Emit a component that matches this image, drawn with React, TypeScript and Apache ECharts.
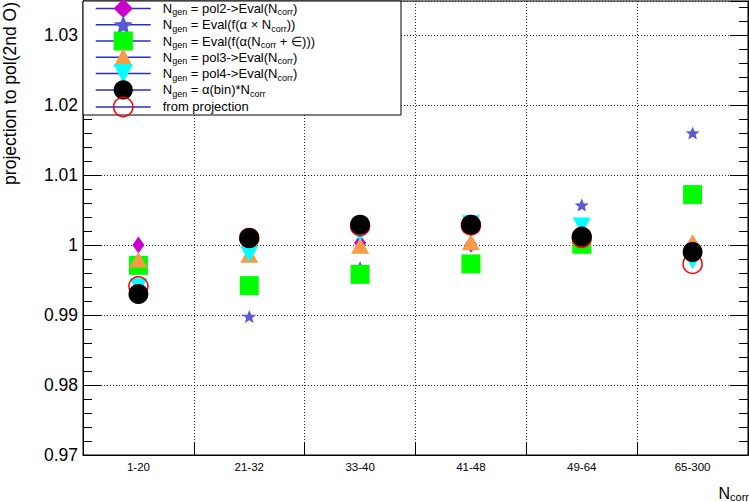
import React, { useEffect, useRef } from "react";
import * as echarts from "echarts";

const categories = ["1-20", "21-32", "33-40", "41-48", "49-64", "65-300"];

const seriesNames = [
  "Ngen = pol2->Eval(Ncorr)",
  "Ngen = Eval(f(α × Ncorr))",
  "Ngen = Eval(f(α(Ncorr + ∈)))",
  "Ngen = pol3->Eval(Ncorr)",
  "Ngen = pol4->Eval(Ncorr)",
  "Ngen = α(bin)*Ncorr",
  "from projection",
];

const richNames = [
  "{f|N}{s|gen}{m| = pol2->Eval(N}{s|corr}{m|)}",
  "{f|N}{s|gen}{m| = Eval(f(α × N}{s|corr}{m|))}",
  "{f|N}{s|gen}{m| = Eval(f(α(N}{s|corr}{m| + ∈)))}",
  "{f|N}{s|gen}{m| = pol3->Eval(N}{s|corr}{m|)}",
  "{f|N}{s|gen}{m| = pol4->Eval(N}{s|corr}{m|)}",
  "{f|N}{s|gen}{m| = α(bin)*N}{s|corr}",
  "{f|from projection}",
];

const pol2Values = [1.0, 1.001, 1.0003, 1.0001, 1.0008, 1.0001];
const starValues = [0.9935, 0.9898, 0.9968, 1.003, 1.0057, 1.016];
const epsValues = [0.9971, 0.9942, 0.9958, 0.9973, 1.0001, 1.0072];
const pol3Values = [0.9979, 0.9986, 0.9999, 1.0004, 1.001, 1.0004];
const pol4Values = [0.9941, 0.9987, 1.0016, 1.0031, 1.0028, 0.9977];
const alphaValues = [0.993, 1.001, 1.0029, 1.0029, 1.0012, 0.999];
const projValues = [0.9941, 1.001, 1.0027, 1.0028, 1.001, 0.9973];

const yMin = 0.97;
const yMax = 1.034857;

const FONT = "Liberation Sans, Arial, Helvetica, sans-serif";

const STAR =
  "path://M1,0 L1.26,0.66 L1.951,0.691 L1.41,1.13 L1.588,1.809 L1,1.43 L0.412,1.809 L0.59,1.13 L0.049,0.691 L0.74,0.66 Z";
const INV_TRI = "path://M0,0 L2,0 L1,2 Z";

export default function App() {
  const ref = useRef<HTMLDivElement>(null);

  useEffect(() => {
    if (!ref.current) return;
    const chart = echarts.init(ref.current, null, { renderer: "svg" });

    const valuesList = [pol2Values, starValues, epsValues, pol3Values, pol4Values, alphaValues, projValues];
    const colors = ["#cc00cc", "#5858d8", "#00ff00", "#f59b45", "#00ffff", "#000000", "#ff0000"];
    const symbols = ["diamond", STAR, "rect", "triangle", INV_TRI, "circle", "circle"];
    const sizes: any[] = [[12, 17], [14, 13], 19, [18, 16], [18, 16], 20, 19];
    const zs = [2, 3, 4, 5, 6, 8, 7];

    const series = seriesNames.map((name, i) => {
      const isOpen = i === 6;
      return {
        name,
        type: "line",
        data: valuesList[i],
        xAxisIndex: 0,
        yAxisIndex: 0,
        symbol: symbols[i],
        symbolSize: sizes[i],
        showSymbol: true,
        showAllSymbol: true,
        color: colors[i],
        lineStyle: { width: 0, color: colors[i] },
        itemStyle: isOpen
          ? { color: "rgba(0,0,0,0)", borderColor: "#ff0000", borderWidth: 1.5 }
          : { color: colors[i], borderWidth: 0 },
        z: zs[i],
        emphasis: { disabled: true },
      };
    });

    const dotted = { show: true, lineStyle: { type: [1, 2], color: "#222", width: 1 } };

    const yLabelFmt = (v: number) => {
      const r = Math.round(v * 100) / 100;
      if (Math.abs(v - r) > 1e-6) return "";
      return Math.abs(r - 1) < 1e-9 ? "1" : r.toFixed(2);
    };

    const yBase = {
      type: "value",
      min: yMin,
      max: yMax,
      axisLine: { show: true, lineStyle: { color: "#000", width: 1 } },
      splitLine: { show: false },
      axisLabel: { show: false },
    };

    chart.setOption({
      animation: false,
      backgroundColor: "#ffffff",
      grid: { left: 83, right: 1, top: 1, bottom: 47, show: true, borderColor: "#000", borderWidth: 1, backgroundColor: "transparent" },
      xAxis: [
        {
          type: "category",
          data: categories,
          boundaryGap: true,
          axisLine: { show: true, lineStyle: { color: "#000", width: 1 } },
          axisTick: { show: true, inside: true, length: 13, interval: 0, lineStyle: { color: "#000" } },
          axisLabel: { interval: 0, fontSize: 11.5, margin: 6, color: "#000", fontFamily: FONT },
          splitLine: { ...dotted, interval: 0 },
        },
      ],
      yAxis: [
        {
          ...yBase,
          position: "left",
          interval: 0.01,
          axisTick: { show: true, inside: true, length: 18, lineStyle: { color: "#000" } },
          axisLabel: { show: true, fontSize: 17.5, margin: 5, color: "#000", fontFamily: FONT, formatter: yLabelFmt, showMaxLabel: false },
          splitLine: dotted,
        },
        {
          ...yBase,
          position: "left",
          interval: 0.002,
          axisTick: { show: true, inside: true, length: 9, lineStyle: { color: "#000" } },
        },
        {
          ...yBase,
          position: "right",
          interval: 0.01,
          axisTick: { show: true, inside: true, length: 18, lineStyle: { color: "#000" } },
        },
        {
          ...yBase,
          position: "right",
          interval: 0.002,
          axisTick: { show: true, inside: true, length: 9, lineStyle: { color: "#000" } },
        },
      ],
      legend: {
        show: true,
        orient: "vertical",
        left: 95,
        top: -1.2,
        padding: 0,
        itemWidth: 55,
        itemHeight: 24,
        itemGap: -2.9,
        selectedMode: false,
        z: 4,
        lineStyle: { color: "#2b2bcc", width: 1.5, opacity: 1, type: "solid" },
        data: seriesNames.map((name, i) =>
          i === 6
            ? { name, itemStyle: { color: "rgba(0,0,0,0)", borderColor: "#ff0000", borderWidth: 1.5 } }
            : { name, itemStyle: { color: colors[i], borderWidth: 0 } }
        ),
        formatter: (name: string) => richNames[seriesNames.indexOf(name)],
        textStyle: {
          fontFamily: FONT,
          fontSize: 13,
          color: "#000",
          rich: {
            f: { fontFamily: FONT, fontSize: 13, color: "#000", lineHeight: 17, padding: [0, 0, 0, 7] },
            m: { fontFamily: FONT, fontSize: 13, color: "#000", lineHeight: 17 },
            s: { fontFamily: FONT, fontSize: 9, color: "#000", lineHeight: 9, padding: [8, 0, 0, 0] },
          },
        },
      },
      graphic: [
        {
          type: "rect",
          z: 3,
          shape: { x: 83, y: 1, width: 318, height: 114 },
          style: { fill: "#fff", stroke: "#000", lineWidth: 1 },
        },
        {
          type: "text",
          x: 10,
          y: 2,
          rotation: Math.PI / 2,
          style: { text: "projection to pol(2nd O)", align: "right", verticalAlign: "middle", fontSize: 17.5, fontFamily: FONT, fill: "#000" },
        },
        {
          type: "text",
          x: 749,
          y: 493,
          style: {
            text: "{n|N}{s|corr}",
            align: "right",
            verticalAlign: "middle",
            fontFamily: FONT,
            fill: "#000",
            rich: {
              n: { fontSize: 16, fontFamily: FONT, lineHeight: 19, fill: "#000" },
              s: { fontSize: 11, fontFamily: FONT, lineHeight: 11, padding: [8, 0, 0, 0], fill: "#000" },
            },
          },
        },
      ],
      series,
    });

    return () => chart.dispose();
  }, []);

  return <div ref={ref} style={{ position: "fixed", left: 0, top: 0, width: 749, height: 502 }} />;
}
